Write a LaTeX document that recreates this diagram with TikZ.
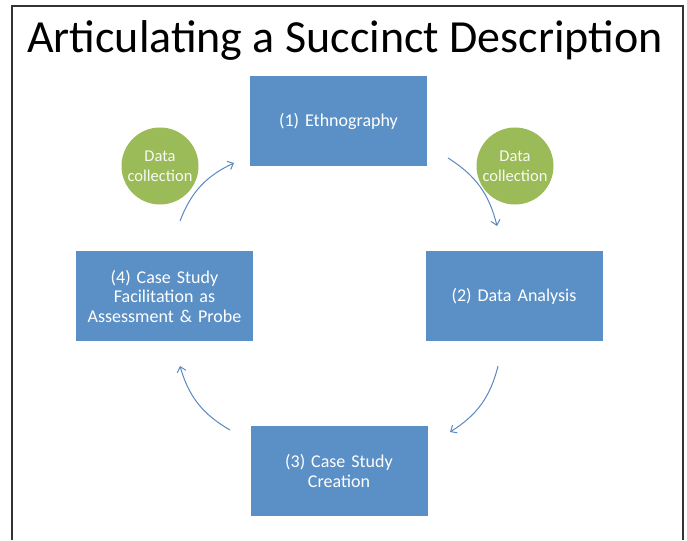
\documentclass[tikz,border=0pt]{standalone}
\usepackage{fontspec}
\setmainfont{Carlito}
\usetikzlibrary{arrows.meta}

\definecolor{stepblue}{HTML}{5B90C6}
\definecolor{datagreen}{HTML}{9BBB59}
\definecolor{arrowblue}{HTML}{5A88C0}

\begin{document}
\begin{tikzpicture}[
  x=1pt, y=1pt,
  % Styles
  stepbox/.style={% For the four stages
      rectangle,
      fill=stepblue,
      text=white,
      minimum width=177pt,
      minimum height=90pt,
      text width=170pt,
      align=center,
      font=\fontsize{18}{19.5}\selectfont,
      },
  collect/.style={% For the green circles
      circle,
      fill=datagreen,
      text=white!92!datagreen,
      minimum size=77pt,
      inner sep=0pt,
      align=center,
      font=\fontsize{16.5}{20}\selectfont,
      },
  cycle/.style={% Thin curved arrows
      -{Straight Barb[length=5pt,width=9pt]},
      draw=arrowblue,
      line width=1pt,
      bend left=22,
      },
  ]

  \useasboundingbox (0,0) rectangle (687,-540);

  % Frame and title
  \draw [line width=1.4pt, black!80] (12,-540) |- (683,-6) -- (683,-540);
  \node [font=\fontsize{46}{50}\selectfont] (title) at (345,-40) {Articulating a Succinct Description};

  % The stages
  \node [stepbox] (ethno) at (338.5,-121) {(1) Ethnography};
  \node [stepbox] (analysis) at (514,-296) {(2) Data Analysis};
  \node [stepbox] (creation) at (339,-471) {(3) Case Study\\Creation};
  \node [stepbox] (facil) at (164.5,-296) {(4) Case Study\\Facilitation as\\Assessment \& Probe};

  % Data collection
  \node [collect] (dcleft) at (160,-166) {Data\\collection};
  \node [collect] (dcright) at (515,-166) {Data\\collection};

  % Arrow ends
  \coordinate (a1s) at (180,-221);
  \coordinate (a1e) at (234,-163);
  \coordinate (a2s) at (448,-158);
  \coordinate (a2e) at (497,-226);
  \coordinate (a3s) at (498,-366);
  \coordinate (a3e) at (450,-432);
  \coordinate (a4s) at (230,-430);
  \coordinate (a4e) at (180,-366);

  \draw [cycle] (a1s) to (a1e);
  \draw [cycle] (a2s) to (a2e);
  \draw [cycle] (a3s) to (a3e);
  \draw [cycle] (a4s) to (a4e);

\end{tikzpicture}
\end{document}
